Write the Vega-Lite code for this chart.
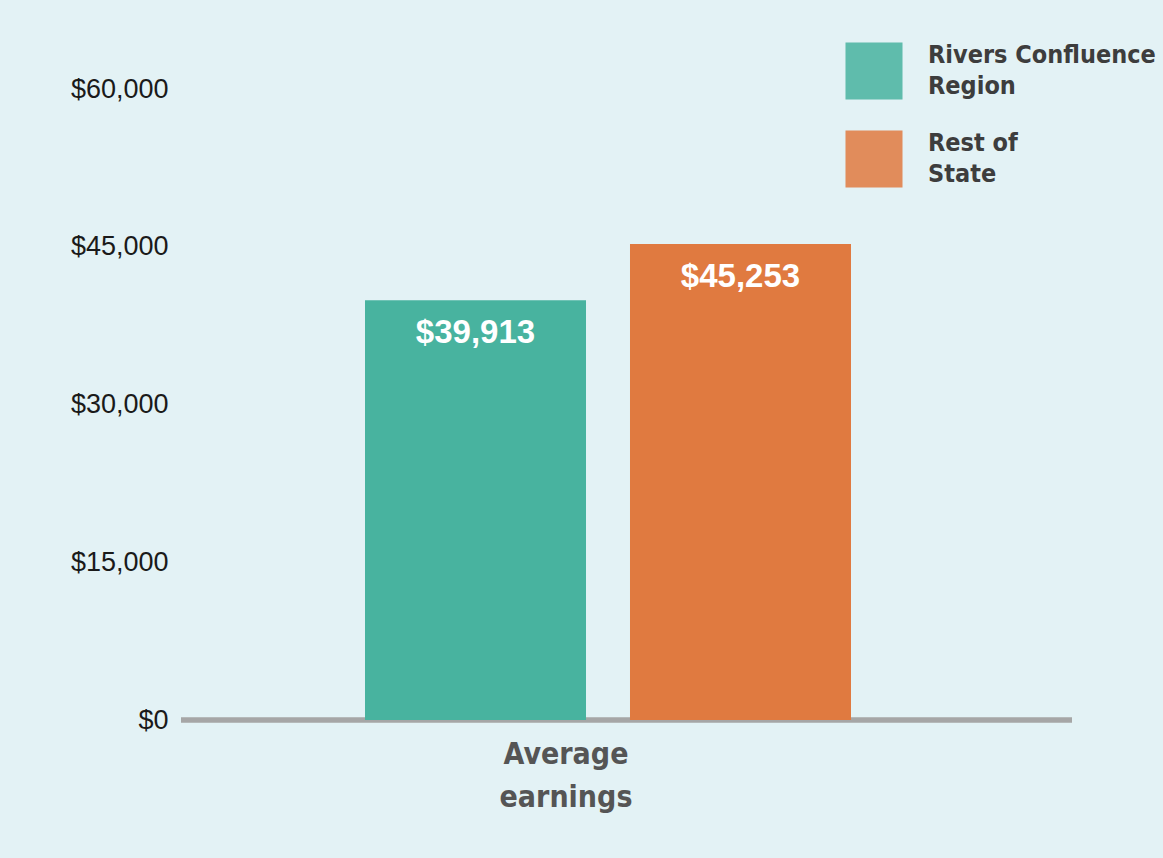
{
  "$schema": "https://vega.github.io/schema/vega-lite/v6.json",
  "width": 891,
  "height": 631,
  "autosize": {"type": "none"},
  "padding": {"left": 181, "top": 89, "right": 91, "bottom": 138},
  "background": "#e3f2f5",
  "config": {"view": {"stroke": null}},
  "data": {
    "values": [
      {"measure": "Average earnings", "series": "Rivers Confluence Region", "value": 39913},
      {"measure": "Average earnings", "series": "Rest of State", "value": 45253}
    ]
  },
  "layer": [
    {
      "mark": {"type": "rule", "color": "#a6a6a6", "strokeWidth": 5},
      "encoding": {
        "y": {"datum": 0, "type": "quantitative"}
      }
    },
    {
      "mark": {"type": "bar"},
      "encoding": {
        "x": {
          "field": "measure",
          "type": "nominal",
          "scale": {"range": [184, 670], "paddingInner": 0, "paddingOuter": 0},
          "axis": {
            "title": null,
            "ticks": false,
            "domain": false,
            "labelAngle": 0,
            "labelFont": "DejaVu Sans Condensed, sans-serif",
            "labelFontSize": 30,
            "labelFontWeight": "bold",
            "labelColor": "#555555",
            "labelExpr": "split(datum.label, ' ')",
            "labelLineHeight": 43,
            "labelOffset": -42,
            "labelPadding": 19,
            "labelLimit": 400
          }
        },
        "xOffset": {
          "field": "series",
          "type": "nominal",
          "sort": ["Rivers Confluence Region", "Rest of State"],
          "scale": {"paddingInner": 0.166, "paddingOuter": 0}
        },
        "y": {
          "field": "value",
          "type": "quantitative",
          "scale": {"domain": [0, 60000], "nice": false},
          "axis": {
            "title": null,
            "ticks": false,
            "domain": false,
            "grid": false,
            "values": [0, 15000, 30000, 45000, 60000],
            "format": "$,d",
            "labelFont": "Liberation Sans, Arial, sans-serif",
            "labelFontSize": 27,
            "labelColor": "#1a1a1a",
            "labelPadding": 13
          }
        },
        "color": {
          "field": "series",
          "type": "nominal",
          "scale": {
            "domain": ["Rivers Confluence Region", "Rest of State"],
            "range": ["#48b39f", "#e07a40"]
          },
          "legend": {
            "orient": "none",
            "legendX": 664,
            "legendY": -47,
            "title": null,
            "padding": 0,
            "symbolType": "square",
            "symbolSize": 3250,
            "symbolOpacity": 0.85,
            "symbolStrokeWidth": 0,
            "labelFont": "DejaVu Sans Condensed, sans-serif",
            "labelFontSize": 25,
            "labelFontWeight": "bold",
            "labelColor": "#3d3d3d",
            "labelOffset": 25,
            "labelLimit": 400,
            "labelBaseline": "line-bottom",
            "rowPadding": 30,
            "labelExpr": "datum.label == 'Rivers Confluence Region' ? ['Rivers Confluence', 'Region'] : ['Rest of', 'State']",
            "encode": {"labels": {"update": {"lineHeight": {"value": 31}}}}
          }
        }
      }
    },
    {
      "mark": {
        "type": "text",
        "color": "white",
        "font": "Liberation Sans, Arial, sans-serif",
        "fontSize": 33,
        "fontWeight": "bold",
        "baseline": "alphabetic",
        "dy": 43
      },
      "encoding": {
        "x": {"field": "measure", "type": "nominal"},
        "xOffset": {"field": "series", "type": "nominal", "sort": ["Rivers Confluence Region", "Rest of State"]},
        "y": {"field": "value", "type": "quantitative"},
        "text": {"field": "value", "type": "quantitative", "format": "$,d"}
      }
    }
  ]
}
